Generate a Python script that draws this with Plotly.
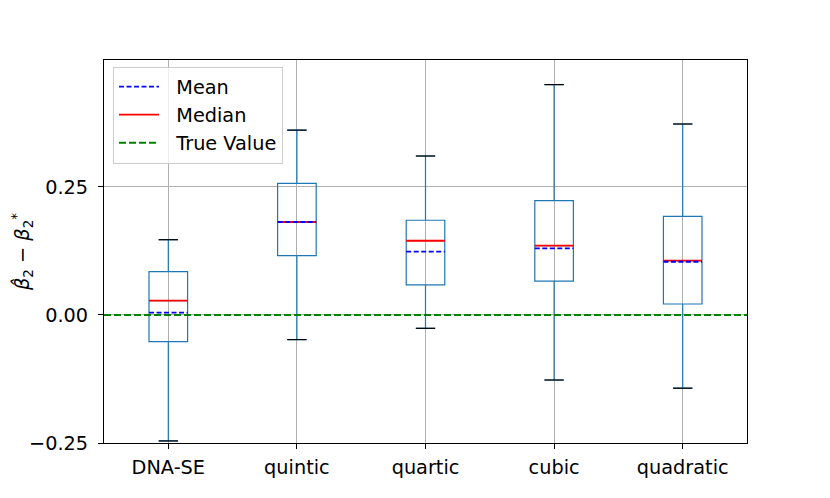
import plotly.graph_objects as go

categories = ["DNA-SE", "quintic", "quartic", "cubic", "quadratic"]
whisker_low = [-0.246, -0.048, -0.026, -0.127, -0.143]
q1_vals = [-0.052, 0.116, 0.059, 0.066, 0.0215]
median_vals = [0.028, 0.1816, 0.145, 0.1354, 0.106]
mean_vals = [0.0045, 0.1816, 0.1237, 0.130, 0.104]
q3_vals = [0.0846, 0.257, 0.185, 0.2233, 0.1927]
whisker_high = [0.147, 0.361, 0.3105, 0.450, 0.373]
true_value = 0.0

positions = list(range(1, len(categories) + 1))
box_w = 0.3
cap_w = 0.15
blue_box = "#1f77b4"
pad = "\u00a0\u00a0"

fig = go.Figure()

for i, p in enumerate(positions):
    fig.add_trace(go.Box(
        x=[p], q1=[q1_vals[i]], median=[median_vals[i]], q3=[q3_vals[i]],
        lowerfence=[whisker_low[i]], upperfence=[whisker_high[i]],
        width=box_w, whiskerwidth=0.5,
        line=dict(color=blue_box, width=1.2), fillcolor="rgba(0,0,0,0)",
        showlegend=False, hoverinfo="skip", boxpoints=False,
    ))

# caps
for i, p in enumerate(positions):
    for yv in (whisker_low[i], whisker_high[i]):
        fig.add_trace(go.Scatter(
            x=[p - cap_w / 2, p + cap_w / 2], y=[yv, yv], mode="lines",
            line=dict(color="black", width=1.2), showlegend=False, hoverinfo="skip"))

# medians
for i, p in enumerate(positions):
    fig.add_trace(go.Scatter(
        x=[p - box_w / 2, p + box_w / 2], y=[median_vals[i]] * 2, mode="lines",
        line=dict(color="red", width=1.8), showlegend=(i == 0), name=pad + "Median",
        legendgroup="g2", legendrank=2, hoverinfo="skip"))

# means
for i, p in enumerate(positions):
    fig.add_trace(go.Scatter(
        x=[p - box_w / 2, p + box_w / 2], y=[mean_vals[i]] * 2, mode="lines",
        line=dict(color="blue", width=1.8, dash="5px,2.5px"), showlegend=(i == 0),
        name=pad + "Mean", legendgroup="g1", legendrank=1, hoverinfo="skip"))

# true value
fig.add_trace(go.Scatter(
    x=[0.5, len(categories) + 0.5], y=[true_value] * 2, mode="lines",
    line=dict(color="green", width=2.2, dash="7px,3px"), name=pad + "True Value",
    legendgroup="g3", legendrank=3, hoverinfo="skip"))

font_fam = "DejaVu Sans"
fs = 19.3
fig.update_layout(
    width=822, height=490, autosize=False,
    margin=dict(l=96, r=83, t=52, b=55),
    paper_bgcolor="white", plot_bgcolor="white",
    font=dict(family=font_fam, size=fs, color="black"),
    xaxis=dict(range=[0.5, len(categories) + 0.5], tickvals=positions, ticktext=categories,
               tickfont=dict(family=font_fam, size=fs, color="black"), automargin=False,
               showgrid=True, gridcolor="#b0b0b0", gridwidth=1, zeroline=False,
               showline=True, linecolor="black", linewidth=1, mirror=True,
               ticks="outside", ticklen=5, tickcolor="black", ticklabelstandoff=2),
    yaxis=dict(range=[-0.25, 0.498], tickvals=[-0.25, 0.0, 0.25],
               ticktext=["\u22120.25", "0.00", "0.25"],
               tickfont=dict(family=font_fam, size=fs, color="black"), automargin=False,
               showgrid=True, gridcolor="#b0b0b0", gridwidth=1, zeroline=False,
               showline=True, linecolor="black", linewidth=1, mirror=True,
               ticks="outside", ticklen=5, tickcolor="black", ticklabelstandoff=6,
               title=dict(text="<i>β̂</i><sub>2</sub> \u2212 <i>β</i><sub>2</sub><sup>*</sup>",
                          font=dict(family=font_fam, size=fs, color="black"),
                          standoff=2)),
    legend=dict(x=0.014, y=0.983, xanchor="left", yanchor="top",
                bgcolor="rgba(255,255,255,0.8)", bordercolor="#cccccc", borderwidth=1,
                font=dict(family=font_fam, size=fs, color="black"),
                tracegroupgap=0, itemwidth=40, traceorder="grouped"),
)

fig.write_html("out.html")
